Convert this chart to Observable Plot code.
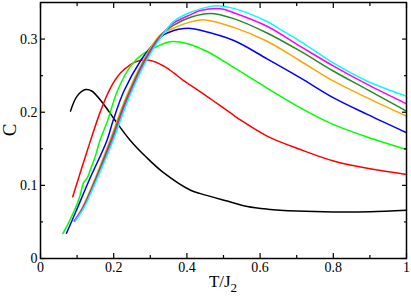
<!DOCTYPE html>
<html><head><meta charset="utf-8">
<script src="https://cdn.jsdelivr.net/npm/d3@7"></script>
<script src="https://cdn.jsdelivr.net/npm/@observablehq/plot@0.6"></script>
<style>
body{margin:0;background:#fff}
svg{display:block}
</style>
</head><body><div id="chart"></div>
<script>
// Tick values
const xTicks = [0, 0.2, 0.4, 0.6, 0.8, 1];
const xMinor = [0.1, 0.3, 0.5, 0.7, 0.9];
const yTicks = [0, 0.1, 0.2, 0.3];
const yMinor = [0.05, 0.15, 0.25];

// Series: temperature T/J2 and specific heat C
const blackT = [0.082,0.10,0.123,0.14,0.173,0.205,0.246,0.29,0.337,0.41,0.437,0.519,0.565,0.62,0.70,0.80,0.90,1.0];
const blackC = [0.2015,0.222,0.231,0.229,0.2106,0.188,0.161,0.138,0.117,0.0933,0.0887,0.0773,0.071,0.0675,0.065,0.0637,0.064,0.066];

const redT = [0.088,0.1275,0.164,0.191,0.219,0.246,0.2645,0.3005,0.337,0.364,0.387,0.428,0.474,0.519,0.546,0.619,0.71,0.801,0.893,1.0];
const redC = [0.0845,0.147,0.2015,0.233,0.2538,0.265,0.2697,0.2707,0.263,0.2538,0.2447,0.231,0.215,0.199,0.1895,0.1674,0.149,0.1333,0.1233,0.115];

const greenT = [0.061,0.077,0.105,0.118,0.128,0.135,0.150,0.162,0.183,0.21,0.246,0.278,0.31,0.355,0.40,0.455,0.519,0.619,0.71,0.801,0.911,1.0];
const greenC = [0.034,0.049,0.081,0.104,0.1105,0.1196,0.140,0.1606,0.188,0.229,0.263,0.279,0.288,0.2965,0.294,0.283,0.264,0.233,0.206,0.183,0.163,0.149];

const blueT = [0.071,0.0956,0.132,0.181,0.198,0.228,0.273,0.30,0.337,0.364,0.392,0.41,0.437,0.528,0.619,0.71,0.801,0.893,1.0];
const blueC = [0.0346,0.0628,0.106,0.1606,0.188,0.229,0.27,0.288,0.306,0.3116,0.3143,0.3145,0.312,0.298,0.273,0.247,0.2196,0.197,0.172];

const orangeT = [0.094,0.114,0.150,0.189,0.230,0.28,0.328,0.364,0.41,0.45,0.528,0.619,0.71,0.801,0.893,1.0];
const orangeC = [0.0514,0.0696,0.1105,0.1606,0.216,0.27,0.306,0.315,0.3235,0.3262,0.316,0.297,0.27,0.2424,0.2196,0.1946];

const dgreenT = [0.093,0.116,0.152,0.192,0.233,0.283,0.33,0.364,0.41,0.464,0.528,0.619,0.71,0.801,0.893,1.0];
const dgreenC = [0.0514,0.0696,0.1105,0.1606,0.216,0.27,0.306,0.319,0.3298,0.335,0.328,0.3083,0.2834,0.256,0.231,0.2015];

const magentaT = [0.092,0.117,0.154,0.195,0.236,0.286,0.332,0.364,0.41,0.437,0.492,0.528,0.619,0.71,0.801,0.893,1.0];
const magentaC = [0.0514,0.0696,0.1105,0.1606,0.216,0.27,0.306,0.322,0.3334,0.339,0.3416,0.336,0.3175,0.29,0.263,0.238,0.2115];

const cyanT = [0.095,0.119,0.156,0.198,0.239,0.289,0.334,0.364,0.41,0.464,0.483,0.528,0.619,0.656,0.71,0.801,0.893,1.0];
const cyanC = [0.0514,0.0696,0.1105,0.1606,0.216,0.27,0.306,0.3243,0.3366,0.3447,0.3457,0.342,0.324,0.313,0.297,0.267,0.2424,0.222];

const seriesNames = ["black","red","green","blue","orange","dgreen","magenta","cyan"];
const seriesColors = ["#000000","#ff0000","#00ff00","#0000ff","#ffa500","#228b22","#ff00ff","#00ffff"];
const seriesT = [blackT, redT, greenT, blueT, orangeT, dgreenT, magentaT, cyanT];
const seriesC = [blackC, redC, greenC, blueC, orangeC, dgreenC, magentaC, cyanC];

const lines = seriesNames.map((name, i) =>
  Plot.line(seriesT[i].map((t, j) => ({t, c: seriesC[i][j]})), {
    x: "t", y: "c", stroke: seriesColors[i], strokeWidth: 1.5, curve: "catmull-rom"
  })
);

const font = "Liberation Serif";

const plot = Plot.plot({
  width: 411,
  height: 297,
  marginLeft: 40,
  marginRight: 5,
  marginTop: 2,
  marginBottom: 39,
  style: {fontFamily: font, background: "#fff"},
  x: {domain: [0, 1]},
  y: {domain: [0, 0.35]},
  marks: [
    ...lines,
    Plot.frame({stroke: "#000", strokeWidth: 1.5}),
    Plot.axisX(xTicks, {anchor: "bottom", tickSize: 0, tickPadding: 4, fontSize: 14, fontFamily: font, tickFormat: d => d === 1 ? "1" : d === 0 ? "0" : d.toFixed(1), label: null}),
    Plot.axisX(xTicks, {anchor: "bottom", tickSize: -5, tickFormat: () => "", label: null, strokeWidth: 1.2}),
    Plot.axisX(xMinor, {anchor: "bottom", tickSize: -3, tickFormat: () => "", label: null, strokeWidth: 1.2}),
    Plot.axisX(xTicks, {anchor: "top", tickSize: -5, tickFormat: () => "", label: null, strokeWidth: 1.2}),
    Plot.axisX(xMinor, {anchor: "top", tickSize: -3, tickFormat: () => "", label: null, strokeWidth: 1.2}),
    Plot.axisY(yTicks, {anchor: "left", tickSize: 0, tickPadding: 3, fontSize: 14, fontFamily: font, tickFormat: d => d === 0 ? "0" : d.toFixed(1), label: null}),
    Plot.axisY(yTicks, {anchor: "left", tickSize: -5, tickFormat: () => "", label: null, strokeWidth: 1.2}),
    Plot.axisY(yMinor, {anchor: "left", tickSize: -3, tickFormat: () => "", label: null, strokeWidth: 1.2}),
    Plot.axisY(yTicks, {anchor: "right", tickSize: -5, tickFormat: () => "", label: null, strokeWidth: 1.2}),
    Plot.axisY(yMinor, {anchor: "right", tickSize: -3, tickFormat: () => "", label: null, strokeWidth: 1.2})
  ]
});

// Axis titles
const svg = d3.select(plot);
const xs = plot.scale("x"), ys = plot.scale("y");
const xl = svg.append("text")
  .attr("x", xs.apply(0.5)).attr("y", 287)
  .attr("text-anchor", "middle")
  .style("font-family", font).attr("font-size", 17).attr("fill", "#000");
xl.append("tspan").text("T/J");
xl.append("tspan").attr("dy", 5).attr("font-size", 13).text("2");

svg.append("text")
  .attr("transform", `translate(16,${ys.apply(0.175)}) rotate(-90)`)
  .attr("text-anchor", "middle")
  .style("font-family", font).attr("font-size", 19).attr("fill", "#000")
  .text("C");

document.getElementById("chart").appendChild(plot);
</script>
</body></html>
